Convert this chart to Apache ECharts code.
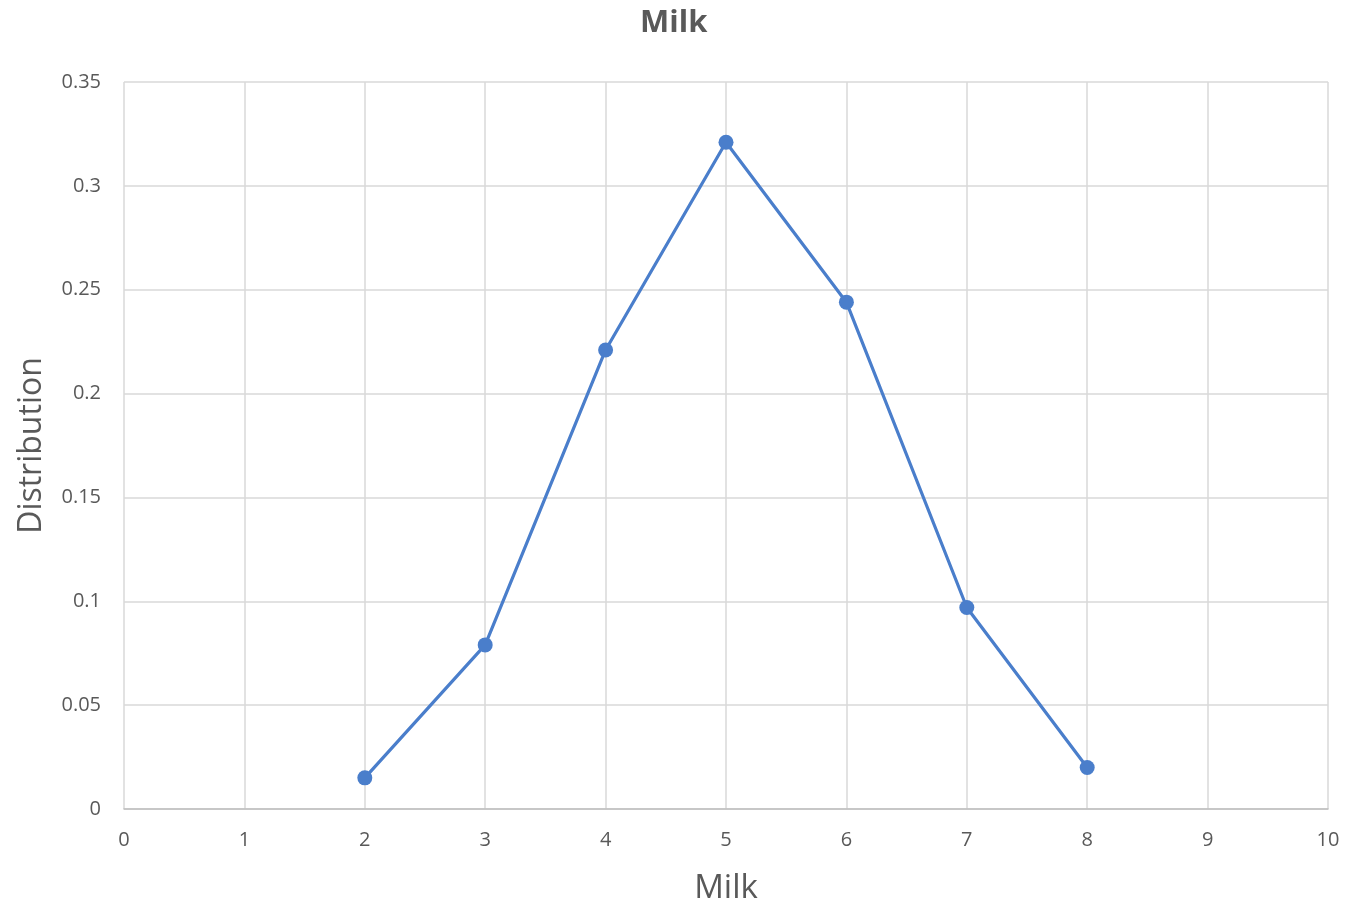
<!DOCTYPE html>
<html>
<head>
<meta charset="utf-8">
<script src="https://cdn.jsdelivr.net/npm/echarts@6/dist/echarts.min.js"></script>
<style>
  html, body { margin: 0; padding: 0; background: #ffffff; }
  #chart { width: 1362px; height: 902px; }
</style>
</head>
<body>
<div id="chart"></div>
<script>
// Milk distribution: amount vs probability
const milkValues = [2, 3, 4, 5, 6, 7, 8];
const distribution = [0.015, 0.079, 0.221, 0.321, 0.244, 0.097, 0.020];

const chartTitle = 'Milk';
const xAxisTitle = 'Milk';
const yAxisTitle = 'Distribution';

const fontFamily = '"Open Sans", "Noto Sans", sans-serif';
const textColor = '#595959';
const gridColor = '#d9d9d9';
const lineColor = '#4a7ecb';

const points = milkValues.map((x, i) => [x, distribution[i]]);

const chart = echarts.init(document.getElementById('chart'), null, { renderer: 'canvas' });
chart.setOption({
  animation: false,
  backgroundColor: '#ffffff',
  title: {
    text: chartTitle,
    left: 635,
    top: 3,
    textStyle: { fontFamily, fontSize: 31, fontWeight: 'bold', color: textColor }
  },
  grid: {
    left: 124, right: 34, top: 82, bottom: 93,
    containLabel: false,
    outerBoundsMode: 'none'
  },
  xAxis: {
    type: 'value',
    min: 0,
    max: 10,
    interval: 1,
    name: xAxisTitle,
    nameLocation: 'middle',
    nameGap: 63,
    nameTextStyle: { fontFamily, fontSize: 33, color: textColor },
    axisLine: { show: true, lineStyle: { color: '#bfbfbf', width: 1.5 } },
    axisTick: { show: false },
    axisLabel: { fontFamily, fontSize: 20, color: textColor, margin: 21 },
    splitLine: { show: true, lineStyle: { color: gridColor, width: 1.5 } }
  },
  yAxis: {
    type: 'value',
    min: 0,
    max: 0.35,
    interval: 0.05,
    name: yAxisTitle,
    nameLocation: 'middle',
    nameGap: 76,
    nameRotate: 90,
    nameTextStyle: { fontFamily, fontSize: 32, color: textColor },
    axisLine: { show: false },
    axisTick: { show: false },
    axisLabel: {
      fontFamily, fontSize: 20, color: textColor, margin: 23,
      formatter: v => String(parseFloat(v.toFixed(2)))
    },
    splitLine: { show: true, lineStyle: { color: gridColor, width: 1.5 } }
  },
  series: [{
    type: 'line',
    data: points,
    symbol: 'circle',
    symbolSize: 15,
    lineStyle: { color: lineColor, width: 3.2 },
    itemStyle: { color: lineColor }
  }]
});
</script>
</body>
</html>
